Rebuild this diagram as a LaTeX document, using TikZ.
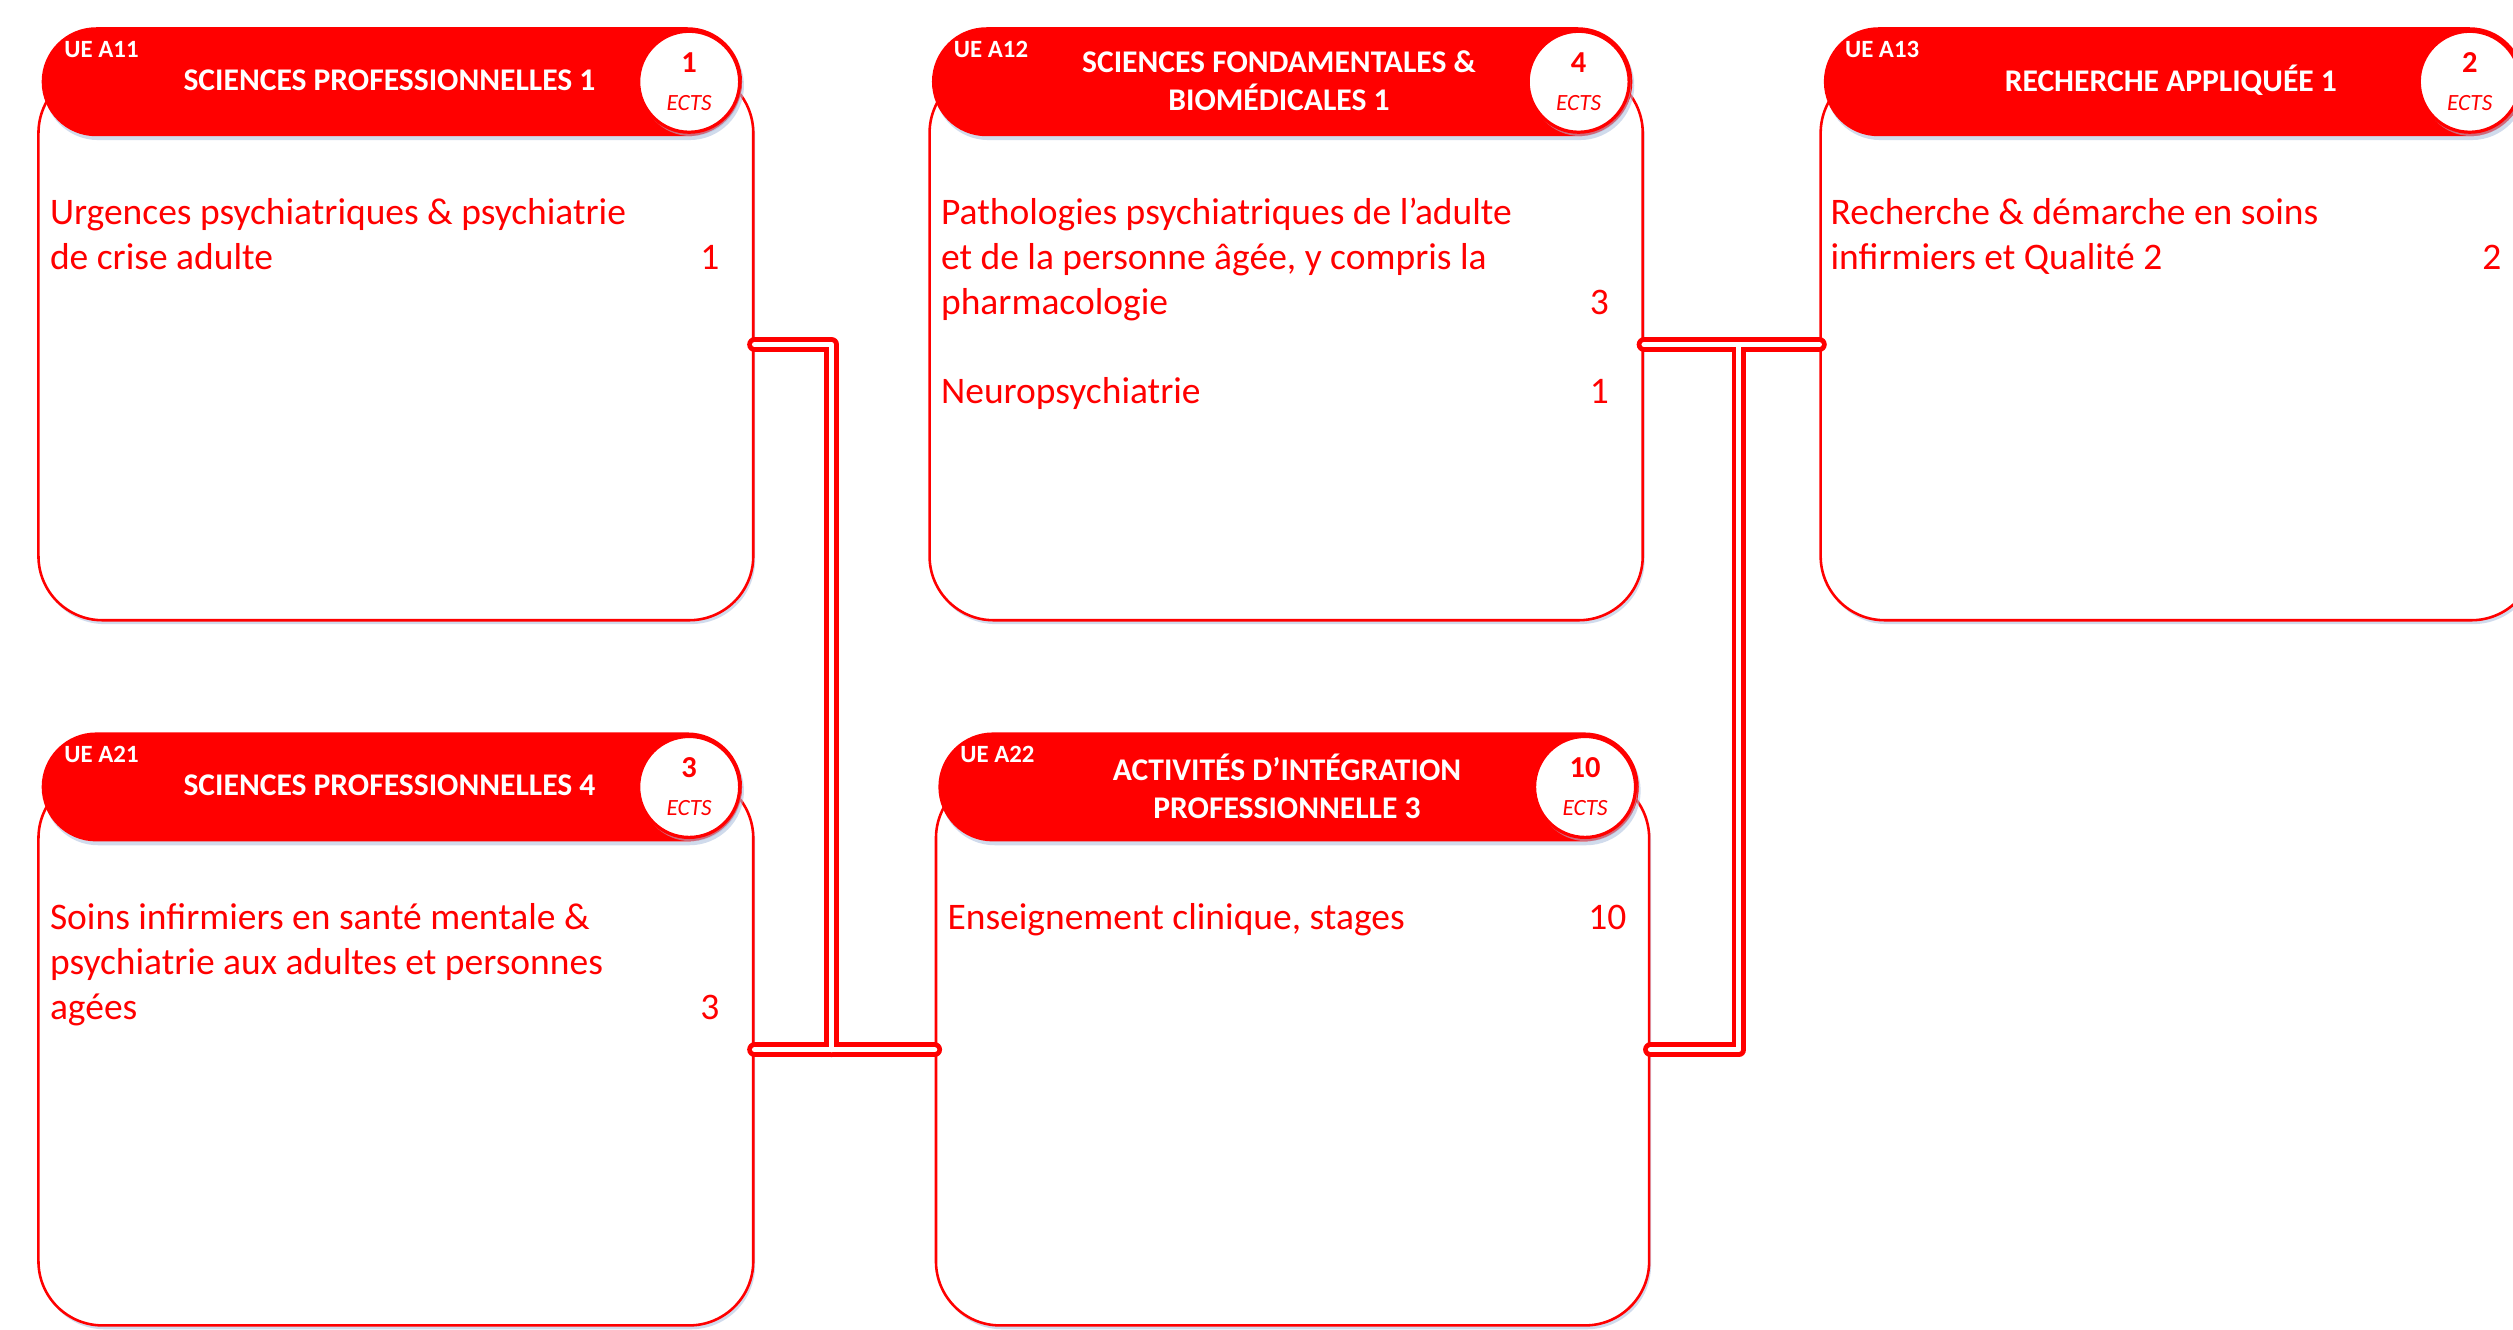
\documentclass[tikz,border=0pt]{standalone}
\usepackage{fontspec}
\setmainfont{Carlito}
\usetikzlibrary{shadows}
\definecolor{ured}{RGB}{255,0,0}
\definecolor{shad}{RGB}{170,190,222}
\begin{document}
\begin{tikzpicture}[x=1pt,y=-1pt,
  softshadow/.style={general shadow={fill=shad, fill opacity=0.55, shadow xshift=1.2pt, shadow yshift=-2.4pt}},
  bodybox/.style={draw=ured, line width=1.6pt, fill=white, rounded corners=40pt,
    minimum height=344pt, inner sep=0pt, softshadow},
  headbox/.style={fill=ured, rounded corners=34pt, minimum height=68pt,
    minimum width=437pt, inner sep=0pt, softshadow},
  ectsbox/.style={circle, draw=ured, line width=2pt, fill=white, minimum size=63pt,
    inner sep=0pt, softshadow},
  uelbl/.style={anchor=west, inner sep=0pt, text=white, font=\bfseries\fontsize{15.5}{18}\selectfont},
  title/.style={inner sep=0pt, text=white, align=center, font=\bfseries\fontsize{19.7}{23.5}\selectfont},
  ectsnum/.style={inner sep=0pt, text=ured, font=\bfseries\fontsize{19}{22}\selectfont},
  ectslbl/.style={inner sep=0pt, text=ured, font=\itshape\fontsize{14.5}{17}\selectfont},
  txt/.style={anchor=base west, inner sep=0pt, text=ured, font=\fontsize{23.4}{28}\selectfont},
  num/.style={txt, anchor=base east},
  connout/.style={draw=ured, line width=9.2pt, line cap=round, line join=round},
  connin/.style={draw=white, line width=3.2pt, line cap=round, line join=round}
]
\useasboundingbox (0,0) rectangle (1568,829.3);
\clip (0,0) rectangle (1568,829.3);

% bodies
\node[bodybox, minimum width=446pt] (b11) at (247,215) {};
\node[bodybox, minimum width=445pt] (b12) at (802.5,215) {};
\node[bodybox, minimum width=446pt] (b13) at (1359,215) {};
\node[bodybox, minimum width=446pt] (b21) at (247,655) {};
\node[bodybox, minimum width=445pt] (b22) at (806.5,655) {};

% headers
\node[headbox] (h11) at (244.5,51) {};
\node[headbox] (h12) at (800,51) {};
\node[headbox] (h13) at (1356.5,51) {};
\node[headbox] (h21) at (244.5,491) {};
\node[headbox] (h22) at (804,491) {};

% ECTS circles
\node[ectsbox] (c11) at (430,51) {};
\node[ectsbox] (c12) at (985,51) {};
\node[ectsbox] (c13) at (1541,51) {};
\node[ectsbox] (c21) at (430,491) {};
\node[ectsbox] (c22) at (989,491) {};

% header texts
\node[uelbl] (u11) at (40,31) {UE A11};
\node[uelbl] (u12) at (595,31) {UE A12};
\node[uelbl] (u13) at (1151,31) {UE A13};
\node[uelbl] (u21) at (40,471) {UE A21};
\node[uelbl] (u22) at (599,471) {UE A22};

\node[title] (t11) at (243,50) {SCIENCES PROFESSIONNELLES 1};
\node[title] (t12) at (798,50.5) {SCIENCES FONDAMENTALES \&\\BIOMÉDICALES 1};
\node[title] (t13) at (1354.5,50) {RECHERCHE APPLIQUÉE 1};
\node[title] (t21) at (243,490) {SCIENCES PROFESSIONNELLES 4};
\node[title] (t22) at (803,490.5) {ACTIVITÉS D’INTÉGRATION\\PROFESSIONNELLE 3};

\node[ectsnum] (n11) at (430,39) {1};
\node[ectslbl] (e11) at (430,64) {ECTS};
\node[ectsnum] (n12) at (985,39) {4};
\node[ectslbl] (e12) at (985,64) {ECTS};
\node[ectsnum] (n13) at (1541,39) {2};
\node[ectslbl] (e13) at (1541,64) {ECTS};
\node[ectsnum] (n21) at (430,479) {3};
\node[ectslbl] (e21) at (430,504) {ECTS};
\node[ectsnum] (n22) at (989,479) {10};
\node[ectslbl] (e22) at (989,504) {ECTS};

% body texts
\node[txt] (a11a) at (31,140) {Urgences psychiatriques \& psychiatrie};
\node[txt] (a11b) at (31,168) {de crise adulte};
\node[num] (a11n) at (449,168) {1};

\node[txt] (a12a) at (587,140) {Pathologies psychiatriques de l’adulte};
\node[txt] (a12b) at (587,168) {et de la personne âgée, y compris la};
\node[txt] (a12c) at (587,196) {pharmacologie};
\node[num] (a12n) at (1004,196) {3};
\node[txt] (a12d) at (587,252) {Neuropsychiatrie};
\node[num] (a12m) at (1004,252) {1};

\node[txt] (a13a) at (1142,140) {Recherche \& démarche en soins};
\node[txt] (a13b) at (1142,168) {infirmiers et Qualité 2};
\node[num] (a13n) at (1561,168) {2};

\node[txt] (a21a) at (31,580) {Soins infirmiers en santé mentale \&};
\node[txt] (a21b) at (31,608) {psychiatrie aux adultes et personnes};
\node[txt] (a21c) at (31,636) {agées};
\node[num] (a21n) at (449,636) {3};

\node[txt] (a22a) at (591,580) {Enseignement clinique, stages};
\node[num] (a22n) at (1015,580) {10};

% connectors
\coordinate (j1) at (519,655);
\coordinate (j2) at (1085,215);
\foreach \s in {connout,connin}{
  \draw[\s] (b11.east) -| (j1);
  \draw[\s] (b21.east) -- (b22.west);
  \draw[\s] (b12.east) -- (b13.west);
  \draw[\s] (b22.east) -| (j2);
}
\end{tikzpicture}
\end{document}
